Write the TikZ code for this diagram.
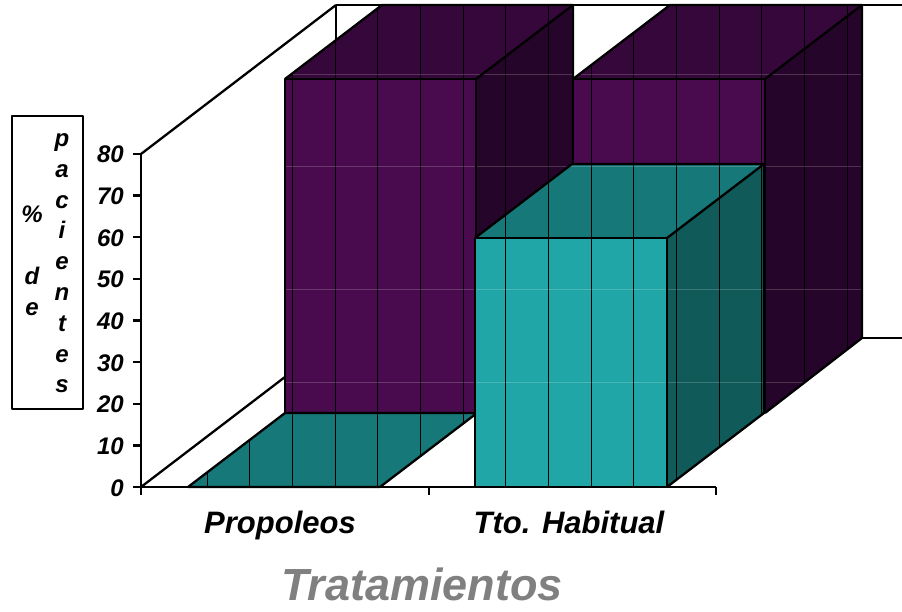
\documentclass[tikz,border=0pt]{standalone}
\usepackage{fontspec}
\setmainfont{Liberation Sans}
\definecolor{violeta}{RGB}{74,10,78}
\definecolor{violetatapa}{RGB}{54,7,58}
\definecolor{violetalado}{RGB}{38,5,42}
\definecolor{verde}{RGB}{32,166,166}
\definecolor{verdetapa}{RGB}{22,120,120}
\definecolor{verdelado}{RGB}{16,90,90}
\definecolor{gristitulo}{RGB}{128,128,128}
\tikzset{
  borde/.style={line width=2.3pt,line join=round},
  trama/.style={line width=0.9pt},
  brillo/.style={line width=1pt,white,opacity=0.18},
  texto/.style={inner sep=0pt,font=\bfseries\itshape},
  escala/.style={texto,anchor=base east,font=\fontsize{24}{24}\selectfont\bfseries\itshape},
  letra/.style={texto,anchor=base,font=\fontsize{24}{24}\selectfont\bfseries\itshape},
  categoria/.style={texto,anchor=base,font=\fontsize{31}{31}\selectfont\bfseries\itshape}
}
\newcommand{\tramado}{%
  \foreach \k in {0,...,15} \draw [trama] ({207+42.67*\k},0)-- ++(0,612);
  \foreach \h in {75,167,290,382} \draw [brillo] (0,\h)-- (902,\h);
}
\begin{document}
\begin{tikzpicture}[x=1pt,y=-1pt]
\useasboundingbox (0,0) rectangle (902,612);
\draw [borde] (141,154)-- (336,5);
\draw [borde] (336,5)-- (902,5);
\draw [borde] (336,5)-- (336,338);
\draw [borde] (141,487)-- (336,338);
\draw [borde] (336,338)-- (902,338);
\fill [violeta] (285,79) rectangle (476,413);
\fill [violetatapa] (285,79)-- (382,5)-- (573,5)-- (476,79)-- cycle;
\fill [violetalado] (476,79)-- (573,5)-- (573,338)-- (476,413)-- cycle;
\begin{scope}
\clip (285,413)-- (285,79)-- (382,5)-- (573,5)-- (573,338)-- (476,413)-- cycle;
\tramado
\end{scope}
\draw [borde] (285,413)-- (285,79)-- (476,79)-- (476,413);
\draw [borde] (285,79)-- (382,5)-- (573,5)-- (573,338)-- (476,413);
\draw [borde] (476,79)-- (573,5);
\fill [violeta] (573,79) rectangle (765,413);
\fill [violetatapa] (573,79)-- (670,5)-- (862,5)-- (765,79)-- cycle;
\fill [violetalado] (765,79)-- (862,5)-- (862,338)-- (765,413)-- cycle;
\begin{scope}
\clip (573,413)-- (573,79)-- (670,5)-- (862,5)-- (862,338)-- (765,413)-- cycle;
\tramado
\end{scope}
\draw [borde] (573,413)-- (573,79)-- (765,79)-- (765,413);
\draw [borde] (573,79)-- (670,5)-- (862,5)-- (862,338)-- (765,413);
\draw [borde] (765,79)-- (862,5);
\fill [verdetapa] (188,487)-- (380,487)-- (477,413)-- (285,413)-- cycle;
\begin{scope}
\clip (188,487)-- (380,487)-- (477,413)-- (285,413)-- cycle;
\tramado
\end{scope}
\draw [borde] (188,487)-- (380,487)-- (477,413)-- (285,413)-- cycle;
\fill [verde] (475,238) rectangle (667,487);
\fill [verdetapa] (475,238)-- (572,164)-- (764,164)-- (667,238)-- cycle;
\fill [verdelado] (667,238)-- (764,164)-- (764,413)-- (667,487)-- cycle;
\begin{scope}
\clip (475,487)-- (475,238)-- (572,164)-- (764,164)-- (764,413)-- (667,487)-- cycle;
\tramado
\end{scope}
\draw [borde] (475,487)-- (475,238)-- (667,238)-- (667,487);
\draw [borde] (475,238)-- (572,164)-- (764,164)-- (764,413)-- (667,487);
\draw [borde] (667,238)-- (764,164);
\draw [borde] (141,154)-- (141,487);
\draw [borde] (141,487)-- (716,487);
\draw [borde] (133,154)-- (141,154);
\draw [borde] (133,195.6)-- (141,195.6);
\draw [borde] (133,237.3)-- (141,237.3);
\draw [borde] (133,278.9)-- (141,278.9);
\draw [borde] (133,320.5)-- (141,320.5);
\draw [borde] (133,362.1)-- (141,362.1);
\draw [borde] (133,403.8)-- (141,403.8);
\draw [borde] (133,445.4)-- (141,445.4);
\draw [borde] (133,487)-- (141,487);
\draw [borde] (141,487)-- (141,495);
\draw [borde] (429,487)-- (429,495);
\draw [borde] (716,487)-- (716,495);
\node [escala] (e80) at (124,163) {80};
\node [escala] (e70) at (124,204.6) {70};
\node [escala] (e60) at (124,246.3) {60};
\node [escala] (e50) at (124,287.9) {50};
\node [escala] (e40) at (124,329.5) {40};
\node [escala] (e30) at (124,371.1) {30};
\node [escala] (e20) at (124,412.8) {20};
\node [escala] (e10) at (124,454.4) {10};
\node [escala] (e0) at (124,496) {0};
\draw [borde] (12,116) rectangle (83,409);
\node [letra] (pct) at (32,223) {\%};
\node [letra] (d) at (32,285) {d};
\node [letra] (e) at (32,316) {e};
\node [letra] (p1) at (62,147) {p};
\node [letra] (p2) at (62,177.7) {a};
\node [letra] (p3) at (62,208.4) {c};
\node [letra] (p4) at (62,239) {i};
\node [letra] (p5) at (62,269.8) {e};
\node [letra] (p6) at (62,300.5) {n};
\node [letra] (p7) at (62,331) {t};
\node [letra] (p8) at (62,362) {e};
\node [letra] (p9) at (62,392.6) {s};
\node [categoria] (propoleos) at (280,533) {Propoleos};
\node [categoria] (habitual) at (569,533) {Tto. Habitual};
\node [texto,anchor=base,gristitulo,font=\fontsize{45}{45}\selectfont\bfseries\itshape] (titulo) at (422,600) {Tratamientos};
\end{tikzpicture}
\end{document}
